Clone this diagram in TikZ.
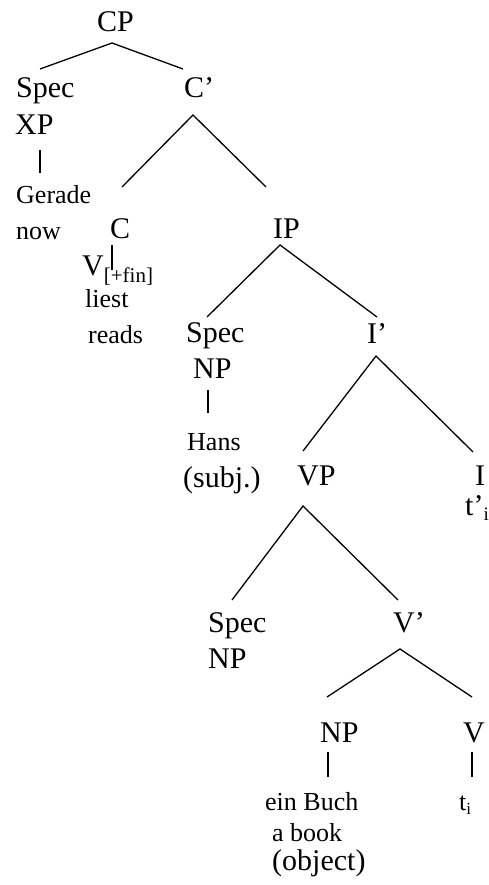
\documentclass[tikz,border=0pt]{standalone}
\usepackage{fontspec}
\setmainfont{Liberation Serif}
\begin{document}
\begin{tikzpicture}[x=1pt,y=-1pt,
  big/.style={font=\fontsize{30}{30}\selectfont, inner sep=0pt, anchor=base west},
  small/.style={font=\fontsize{26}{26}\selectfont, inner sep=0pt, anchor=base west},
  branch/.style={line width=1.3pt}]
\useasboundingbox (0,0) rectangle (489,885);
% labels
\node[big] (cp) at (97,32) {CP};
\node[big] (specxp) at (16,98) {Spec};
\node[big] (xp) at (15,135) {XP};
\node[small] (gerade) at (16,204) {Gerade};
\node[small] (now) at (16,240) {now};
\node[big] (cbar) at (184,98) {C’};
\node[big] (c) at (110,238) {C};
\node[big] (vfin) at (82,275) {V\raisebox{-7pt}{\fontsize{21}{21}\selectfont[+fin]}};
\node[small] (liest) at (85,307) {liest};
\node[small] (reads) at (88,343) {reads};
\node[big] (ip) at (273,239) {IP};
\node[big] (specnp) at (186,342) {Spec};
\node[big] (np1) at (193,378) {NP};
\node[small] (hans) at (187,450) {Hans};
\node[big] (subj) at (183,487) {(subj.)};
\node[big] (ibar) at (367,343) {I’};
\node[big] (vp) at (297,485) {VP};
\node[big] (i) at (475,485) {I};
\node[big] (ti1) at (465,515) {t’\raisebox{-5pt}{\fontsize{19}{19}\selectfont i}};
\node[big] (specnp2) at (208,632) {Spec};
\node[big] (np2) at (208,668) {NP};
\node[big] (vbar) at (393,632) {V’};
\node[big] (np3) at (320,742) {NP};
\node[big] (v) at (463,742) {V};
\node[small] (buch) at (265,810) {ein Buch};
\node[small] (book) at (272,841) {a book};
\node[big] (obj) at (272,870) {(object)};
\node[small] (ti2) at (459,810) {t\raisebox{-4pt}{\fontsize{17}{17}\selectfont i}};
% branch points
\coordinate (cpB) at (112,43);
\coordinate (specxpT) at (40,69);
\coordinate (cbarT) at (183,69);
\coordinate (xpB) at (40,150);
\coordinate (geradeT) at (40,173);
\coordinate (cbarB) at (193,115);
\coordinate (cT) at (122,187);
\coordinate (ipT) at (266,187);
\coordinate (cB) at (112,245);
\coordinate (vfinT) at (112,270);
\coordinate (ipB) at (280,245);
\coordinate (specnpT) at (207,317);
\coordinate (ibarT) at (377,317);
\coordinate (np1B) at (208,390);
\coordinate (hansT) at (208,413);
\coordinate (ibarB) at (376,356);
\coordinate (vpT) at (303,451);
\coordinate (iT) at (473,452);
\coordinate (vpB) at (303,506);
\coordinate (specnp2T) at (232,600);
\coordinate (vbarT) at (398,600);
\coordinate (vbarB) at (400,649);
\coordinate (np3T) at (327,697);
\coordinate (vT) at (472,697);
\coordinate (np3B) at (328,752);
\coordinate (buchT) at (328,777);
\coordinate (vB) at (472,752);
\coordinate (ti2T) at (472,777);
% branches
\draw[branch] (specxpT) -- (cpB) -- (cbarT);
\draw[branch] (xpB) -- (geradeT);
\draw[branch] (cT) -- (cbarB) -- (ipT);
\draw[branch] (cB) -- (vfinT);
\draw[branch] (specnpT) -- (ipB) -- (ibarT);
\draw[branch] (np1B) -- (hansT);
\draw[branch] (vpT) -- (ibarB) -- (iT);
\draw[branch] (specnp2T) -- (vpB) -- (vbarT);
\draw[branch] (np3T) -- (vbarB) -- (vT);
\draw[branch] (np3B) -- (buchT);
\draw[branch] (vB) -- (ti2T);
\end{tikzpicture}
\end{document}
